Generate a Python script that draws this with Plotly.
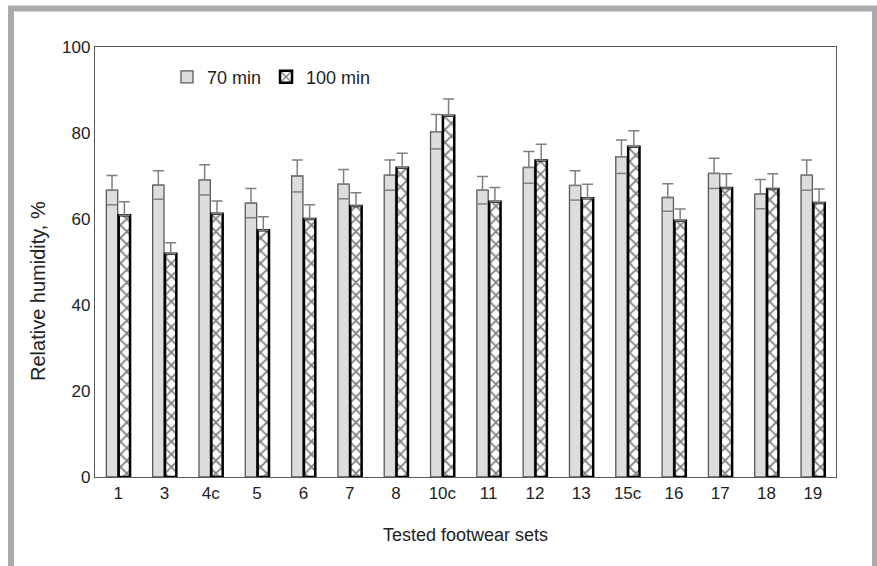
import plotly.graph_objects as go

categories = ["1", "3", "4c", "5", "6", "7", "8", "10c", "11", "12", "13", "15c", "16", "17", "18", "19"]
rh_70 = [66.7, 67.9, 69.1, 63.7, 70.0, 68.1, 70.2, 80.3, 66.7, 72.0, 67.8, 74.5, 65.0, 70.6, 65.8, 70.2]
err_70 = [3.4, 3.3, 3.5, 3.4, 3.7, 3.4, 3.5, 4.0, 3.2, 3.7, 3.4, 3.9, 3.2, 3.5, 3.4, 3.5]
rh_100 = [60.9, 51.9, 61.2, 57.4, 60.0, 63.0, 71.9, 84.0, 64.0, 73.6, 64.8, 76.8, 59.6, 67.2, 67.0, 63.7]
err_100 = [3.1, 2.6, 3.0, 3.1, 3.3, 3.1, 3.4, 3.9, 3.3, 3.8, 3.3, 3.7, 2.7, 3.3, 3.5, 3.3]

idx = list(range(len(categories)))
W = 0.245
OFF70 = -0.255
OFF100 = 0.012

fig = go.Figure()

fig.add_trace(go.Bar(
    name="70 min", x=idx, y=rh_70, width=W, offset=OFF70,
    marker=dict(color="#dddddd", line=dict(color="#595959", width=1.3)),
    error_y=dict(type="data", array=err_70, arrayminus=[0] * len(err_70),
                 symmetric=False, color="#7f7f7f", thickness=1.5, width=5.5),
))
fig.add_trace(go.Bar(
    name="100 min", x=idx, y=rh_100, width=W, offset=OFF100,
    marker=dict(color="white", line=dict(color="black", width=2.5),
                pattern=dict(shape="x", fgcolor="black", bgcolor="white", size=9, solidity=0.35)),
    error_y=dict(type="data", array=err_100, arrayminus=[0] * len(err_100),
                 symmetric=False, color="#7f7f7f", thickness=1.5, width=5.5),
))
# lower error caps visible inside the grey bars
fig.add_trace(go.Scatter(
    x=[i + OFF70 + W / 2 for i in idx],
    y=[v - e for v, e in zip(rh_70, err_70)],
    mode="markers", showlegend=False, hoverinfo="skip",
    marker=dict(symbol="line-ew", size=7, line=dict(color="#7f7f7f", width=1.5)),
))

fig.update_layout(
    width=877, height=566,
    margin=dict(l=95, r=41, t=47, b=89),
    paper_bgcolor="white", plot_bgcolor="white",
    font=dict(family="Liberation Sans, Arial, sans-serif", size=17, color="#222222"),
    barmode="overlay",
    showlegend=True,
    legend=dict(orientation="h", x=(167 - 95) / 741, y=0.93, xanchor="left", yanchor="middle",
                font=dict(size=18), bgcolor="rgba(0,0,0,0)", itemwidth=30,
                tracegroupgap=0),
    xaxis=dict(
        tickmode="array", tickvals=idx, ticktext=categories,
        range=[-0.5, len(categories) - 0.5],
        showline=True, linecolor="#595959", linewidth=1.3, mirror=True,
        showgrid=False, zeroline=False, ticks="",
        title=dict(text="Tested footwear sets", font=dict(size=18), standoff=26),
        tickfont=dict(size=17),
    ),
    yaxis=dict(
        range=[0, 100], dtick=20,
        showline=True, linecolor="#595959", linewidth=1.3, mirror=True,
        showgrid=False, zeroline=False, ticks="",
        tickfont=dict(size=17),
    ),
    annotations=[dict(
        text="Relative humidity, %", textangle=-90, showarrow=False,
        xref="paper", yref="paper", x=(38 - 95) / 741, y=(477 - 291) / 430,
        xanchor="center", yanchor="middle", font=dict(size=20),
    )],
    shapes=[dict(
        type="rect", xref="paper", yref="paper",
        x0=(11 - 95) / 741, x1=(875 - 95) / 741,
        y0=(477 - 640) / 430, y1=(477 - 8.5) / 430,
        line=dict(color="#aaaaae", width=6), fillcolor="rgba(0,0,0,0)", layer="below",
    )],
)

fig.write_html("out.html")
